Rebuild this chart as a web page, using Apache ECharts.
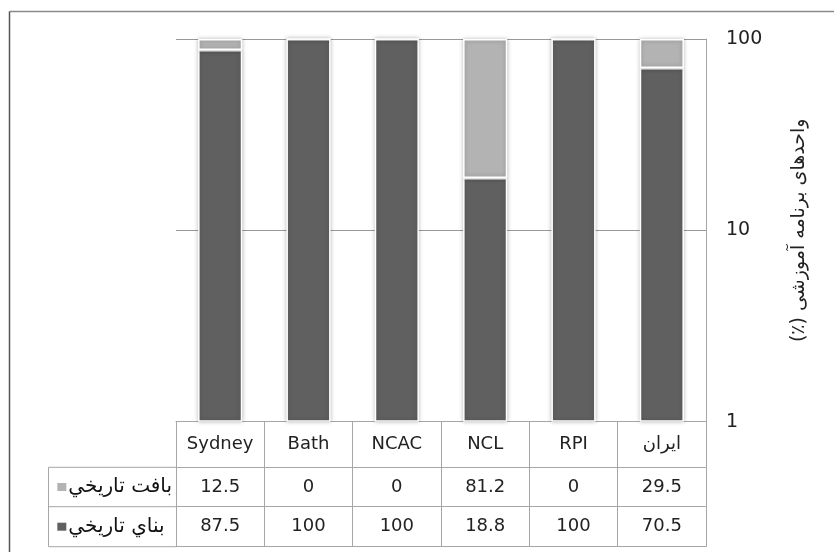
<!DOCTYPE html>
<html>
<head>
<meta charset="utf-8">
<script src="https://cdn.jsdelivr.net/npm/echarts@6/dist/echarts.min.js"></script>
<style>html,body{margin:0;padding:0;background:#fff}#c{width:834px;height:552px}</style>
</head>
<body>
<div id="c"></div>
<script>
// ---- data ----
var categories = ['Sydney', 'Bath', 'NCAC', 'NCL', 'RPI', 'ایران'];
var seriesNames = ['بافت تاريخي', 'بناي تاريخي'];
var fabricValues = [12.5, 0, 0, 81.2, 0, 29.5];      // light grey
var buildingValues = [87.5, 100, 100, 18.8, 100, 70.5]; // dark grey
var yTicks = [1, 10, 100];
var yAxisName = 'واحدهای برنامه آموزشی (٪)';

// ---- layout ----
var GL = 176, GR = 706, GT = 39, GB = 421.7;
var ROW0 = 45.6, ROW1 = 39.4, ROW2 = 40;
var TABLE_LEFT = 48;
var W = 834, H = 552;
var FONT = 'DejaVu Sans';
var LINE = '#a6a6a6';

function tableAxis(offset, rowH, formatter, showTicks) {
  return {
    type: 'category', data: categories, gridIndex: 0, position: 'bottom', offset: offset,
    axisLine: { show: true, lineStyle: { color: LINE, width: 1 } },
    axisTick: { show: showTicks, interval: 0, length: rowH, lineStyle: { color: LINE, width: 1 } },
    axisLabel: {
      show: !!formatter, interval: 0, margin: rowH / 2, verticalAlign: 'middle',
      fontFamily: FONT, fontSize: 18, color: '#222',
      formatter: formatter
    },
    splitLine: { show: false }
  };
}

var chart = echarts.init(document.getElementById('c'), null, { renderer: 'canvas' });
var option = {
  backgroundColor: '#fff',
  animation: false,
  grid: { left: GL, right: W - GR, top: GT, bottom: H - GB, containLabel: false },
  legend: {
    data: [seriesNames[0], seriesNames[1]],
    orient: 'vertical', align: 'left',
    right: W - 172, top: GB + ROW0 + ROW1 / 2 - 11,
    padding: 0,
    itemWidth: 9, itemHeight: 8, itemGap: 17.7, icon: 'rect',
    itemStyle: { borderWidth: 0, shadowBlur: 0 },
    selectedMode: false,
    textStyle: { fontFamily: FONT, fontSize: 20, color: '#111', lineHeight: 22, padding: [0, 0, 0, -3] }
  },
  xAxis: [
    tableAxis(0, ROW0, function (v) { return v; }, true),
    tableAxis(ROW0, ROW1, function (v, i) { return String(fabricValues[i]); }, true),
    tableAxis(ROW0 + ROW1, ROW2, function (v, i) { return String(buildingValues[i]); }, true),
    tableAxis(ROW0 + ROW1 + ROW2, 0, null, false)
  ],
  yAxis: {
    type: 'log', logBase: 10, min: yTicks[0], max: yTicks[yTicks.length - 1],
    position: 'right',
    name: yAxisName + '\u200F', nameLocation: 'middle', nameRotate: 90, nameGap: 84,
    nameTextStyle: { fontFamily: FONT, fontSize: 19, color: '#222' },
    axisLine: { show: true, lineStyle: { color: LINE, width: 1 } },
    axisTick: { show: false },
    axisLabel: { fontFamily: FONT, fontSize: 19, color: '#222', margin: 20 },
    splitLine: { show: true, lineStyle: { color: '#999', width: 1 } },
    minorSplitLine: { show: false }
  },
  series: [
    {
      name: seriesNames[1], type: 'bar', stack: 'total', data: buildingValues,
      barWidth: '50%', xAxisIndex: 0,
      itemStyle: { color: '#606060', borderColor: '#fff', borderWidth: 1.5, shadowBlur: 4, shadowColor: 'rgba(0,0,0,0.25)' }
    },
    {
      name: seriesNames[0], type: 'bar', stack: 'total', data: fabricValues,
      barWidth: '50%', xAxisIndex: 0,
      itemStyle: { color: '#b3b3b3', borderColor: '#fff', borderWidth: 1.5, shadowBlur: 4, shadowColor: 'rgba(0,0,0,0.25)' }
    }
  ],
  graphic: [
    { type: 'line', shape: { x1: 9.5, y1: 11.5, x2: W, y2: 11.5 }, style: { stroke: '#8a8a8a', lineWidth: 1.5 }, silent: true },
    { type: 'line', shape: { x1: 9.5, y1: 11.5, x2: 9.5, y2: H }, style: { stroke: '#555', lineWidth: 1.5 }, silent: true },
    { type: 'rect', shape: { x: TABLE_LEFT + 0.5, y: GB + ROW0, width: GL - TABLE_LEFT, height: ROW1 + ROW2 }, style: { fill: 'none', stroke: LINE, lineWidth: 1 }, silent: true },
    { type: 'line', shape: { x1: TABLE_LEFT, y1: GB + ROW0 + ROW1, x2: GL, y2: GB + ROW0 + ROW1 }, style: { stroke: LINE, lineWidth: 1 }, silent: true }
  ]
};
chart.setOption(option);
</script>
</body>
</html>
